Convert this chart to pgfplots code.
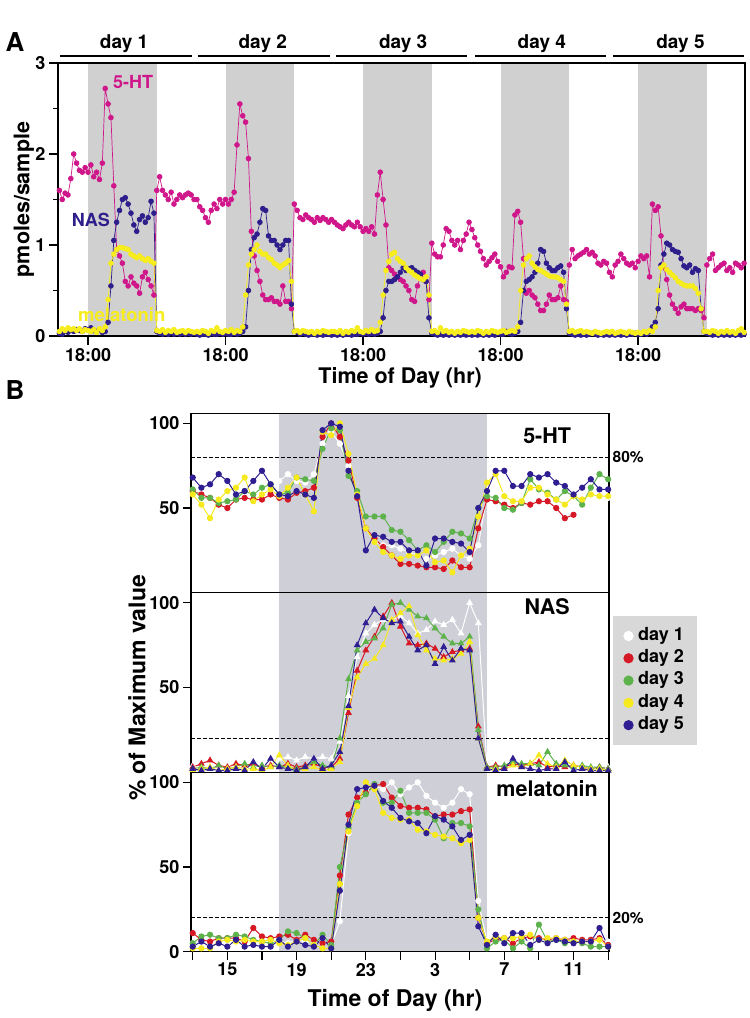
\documentclass[border=0pt]{standalone}
\usepackage{fontspec}
\setmainfont{TeX Gyre Heros}
\usepackage{pgfplots}
\usepackage{pgfplotstable}
\pgfplotsset{compat=1.18}
\definecolor{htcol}{RGB}{207,22,138}
\definecolor{nascol}{RGB}{45,30,140}
\definecolor{melcol}{RGB}{247,236,28}
\definecolor{grayA}{RGB}{208,208,208}
\definecolor{grayB}{RGB}{207,207,216}
\definecolor{cred}{RGB}{213,24,36}
\definecolor{cgreen}{RGB}{94,178,76}
\definecolor{cyel}{RGB}{246,233,30}
\definecolor{cblue}{RGB}{46,30,146}
\definecolor{leggray}{RGB}{216,216,216}
\newcommand{\fs}[1]{\fontsize{#1}{#1}\selectfont\bfseries}

\pgfplotstableread[row sep=\\]{
h ht nas mel\\
-5 1.60 0.03 0.05\\ -4.5 1.50 0.02 0.08\\ -4 1.57 0.05 0.06\\ -3.5 1.55 0.04 0.09\\
-3 1.73 0.06 0.07\\ -2.5 2.00 0.05 0.08\\ -2 1.90 0.07 0.06\\ -1.5 1.82 0.06 0.08\\
-1 1.80 0.05 0.05\\ -0.5 1.85 0.08 0.07\\ 0 1.80 0.07 0.06\\ 0.5 1.88 0.09 0.05\\
1 1.75 0.06 0.07\\ 1.5 1.80 0.05 0.04\\ 2 1.72 0.07 0.08\\ 2.5 1.90 0.04 0.06\\
3 2.72 0.05 0.10\\ 3.5 2.55 0.15 0.40\\ 4 2.40 0.55 0.80\\ 4.5 1.65 1.05 0.90\\
5 0.95 1.25 0.95\\ 5.5 0.88 1.38 0.97\\ 6 0.80 1.50 0.97\\ 6.5 0.60 1.52 0.96\\
7 0.55 1.45 0.95\\ 7.5 0.65 1.35 0.90\\ 8 0.58 1.22 0.88\\ 8.5 0.55 1.15 0.86\\
9 0.47 1.28 0.88\\ 9.5 0.65 1.32 0.85\\ 10 0.70 1.25 0.83\\ 10.5 0.62 1.30 0.85\\
11 0.55 1.48 0.82\\ 11.5 0.45 1.35 0.80\\ 12 1.60 0.05 0.06\\ 12.5 1.75 0.03 0.05\\
13 1.60 0.02 0.07\\ 13.5 1.55 0.03 0.04\\ 14 1.50 0.02 0.06\\ 14.5 1.58 0.04 0.05\\
15 1.45 0.02 0.07\\ 15.5 1.50 0.03 0.04\\ 16 1.55 0.02 0.05\\ 16.5 1.52 0.03 0.06\\
17 1.55 0.02 0.04\\ 17.5 1.57 0.03 0.06\\ 18 1.55 0.02 0.05\\ 18.5 1.50 0.03 0.04\\
19 1.50 0.02 0.05\\ 19.5 1.42 0.01 0.04\\ 20 1.38 0.02 0.06\\ 20.5 1.30 0.02 0.05\\
21 1.25 0.01 0.03\\ 21.5 1.38 0.03 0.06\\ 22 1.45 0.02 0.05\\ 22.5 1.40 0.02 0.09\\
23 1.50 0.03 0.05\\ 23.5 1.45 0.02 0.04\\ 24 1.50 0.03 0.06\\ 24.5 1.45 0.02 0.05\\
25 1.50 0.02 0.07\\ 25.5 1.58 0.03 0.04\\ 26 2.10 0.02 0.06\\ 26.5 2.55 0.03 0.05\\
27 2.42 0.05 0.10\\ 27.5 2.35 0.10 0.45\\ 28 1.95 0.50 0.78\\ 28.5 1.15 0.95 0.90\\
29 0.88 1.08 0.95\\ 29.5 0.72 1.12 1.00\\ 30 0.60 1.25 0.93\\ 30.5 0.45 1.40 0.90\\
31 0.40 1.38 0.90\\ 31.5 0.40 1.10 0.86\\ 32 0.42 1.05 0.84\\ 32.5 0.38 1.05 0.80\\
33 0.38 1.00 0.78\\ 33.5 0.35 0.95 0.75\\ 34 0.55 1.00 0.78\\ 34.5 0.38 1.05 0.80\\
35 0.38 1.05 0.83\\ 35.5 0.30 0.35 0.60\\ 36 1.45 0.05 0.05\\ 36.5 1.38 0.04 0.06\\
37 1.30 0.02 0.04\\ 37.5 1.28 0.03 0.06\\ 38 1.33 0.02 0.05\\ 38.5 1.30 0.01 0.04\\
39 1.28 0.02 0.05\\ 39.5 1.25 0.02 0.03\\ 40 1.30 0.01 0.05\\ 40.5 1.27 0.02 0.04\\
41 1.30 0.01 0.06\\ 41.5 1.28 0.02 0.05\\ 42 1.25 0.02 0.04\\ 42.5 1.28 0.01 0.05\\
43 1.25 0.02 0.05\\ 43.5 1.22 0.01 0.04\\ 44 1.20 0.02 0.06\\ 44.5 1.18 0.01 0.03\\
45 1.22 0.02 0.05\\ 45.5 1.25 0.02 0.04\\ 46 1.22 0.01 0.06\\ 46.5 1.20 0.02 0.05\\
47 1.25 0.02 0.09\\ 47.5 1.20 0.03 0.05\\ 48 1.15 0.02 0.04\\ 48.5 1.18 0.03 0.06\\
49 1.15 0.02 0.05\\ 49.5 1.20 0.03 0.07\\ 50 1.12 0.02 0.05\\ 50.5 1.55 0.03 0.06\\
51 1.80 0.05 0.15\\ 51.5 1.50 0.20 0.45\\ 52 1.22 0.50 0.72\\ 52.5 0.75 0.60 0.82\\
53 0.72 0.60 0.90\\ 53.5 0.68 0.62 0.92\\ 54 0.65 0.65 0.85\\ 54.5 0.62 0.70 0.82\\
55 0.60 0.75 0.80\\ 55.5 0.55 0.72 0.75\\ 56 0.50 0.74 0.72\\ 56.5 0.40 0.75 0.70\\
57 0.38 0.72 0.67\\ 57.5 0.55 0.70 0.65\\ 58 0.65 0.68 0.63\\ 58.5 0.70 0.62 0.62\\
59 0.60 0.60 0.65\\ 59.5 0.40 0.20 0.45\\ 60 1.02 0.03 0.05\\ 60.5 0.90 0.02 0.06\\
61 0.87 0.01 0.04\\ 61.5 0.87 0.02 0.09\\ 62 1.00 0.01 0.05\\ 62.5 1.18 0.02 0.06\\
63 1.15 0.01 0.04\\ 63.5 1.05 0.02 0.05\\ 64 1.00 0.01 0.03\\ 64.5 1.05 0.02 0.05\\
65 0.95 0.01 0.04\\ 65.5 1.05 0.02 0.06\\ 66 1.12 0.01 0.05\\ 66.5 1.25 0.02 0.04\\
67 1.17 0.01 0.05\\ 67.5 1.08 0.02 0.04\\ 68 1.00 0.01 0.06\\ 68.5 0.93 0.02 0.05\\
69 0.85 0.01 0.03\\ 69.5 0.78 0.02 0.05\\ 70 0.82 0.01 0.04\\ 70.5 0.86 0.02 0.06\\
71 0.90 0.01 0.05\\ 71.5 0.82 0.03 0.04\\ 72 0.76 0.02 0.05\\ 72.5 0.65 0.02 0.06\\
73 0.70 0.05 0.04\\ 73.5 0.76 0.03 0.05\\ 74 0.75 0.02 0.06\\ 74.5 1.33 0.03 0.05\\
75 1.37 0.05 0.10\\ 75.5 1.25 0.15 0.50\\ 76 0.85 0.50 0.78\\ 76.5 0.47 0.60 0.85\\
77 0.50 0.62 0.88\\ 77.5 0.45 0.65 0.80\\ 78 0.42 0.70 0.76\\ 78.5 0.35 0.80 0.73\\
79 0.28 0.95 0.72\\ 79.5 0.28 0.93 0.70\\ 80 0.35 0.80 0.68\\ 80.5 0.45 0.75 0.66\\
81 0.40 0.72 0.65\\ 81.5 0.40 0.72 0.65\\ 82 0.42 0.75 0.64\\ 82.5 0.55 0.77 0.62\\
83 0.40 0.70 0.60\\ 83.5 0.38 0.30 0.35\\ 84 0.78 0.03 0.05\\ 84.5 0.95 0.02 0.06\\
85 0.85 0.01 0.04\\ 85.5 0.88 0.02 0.05\\ 86 0.90 0.01 0.06\\ 86.5 0.92 0.02 0.04\\
87 0.95 0.01 0.05\\ 87.5 0.90 0.02 0.04\\ 88 0.92 0.03 0.03\\ 88.5 0.88 0.02 0.05\\
89 0.80 0.01 0.04\\ 89.5 0.78 0.02 0.03\\ 90 0.82 0.01 0.04\\ 90.5 0.80 0.02 0.05\\
91 0.70 0.01 0.04\\ 91.5 0.65 0.02 0.05\\ 92 0.78 0.01 0.03\\ 92.5 0.82 0.02 0.04\\
93 0.90 0.01 0.05\\ 93.5 0.85 0.02 0.04\\ 94 0.80 0.01 0.03\\ 94.5 0.78 0.02 0.05\\
95 0.80 0.02 0.04\\ 95.5 0.75 0.03 0.03\\ 96 0.82 0.02 0.04\\ 96.5 0.88 0.02 0.03\\
97 0.85 0.03 0.05\\ 97.5 0.88 0.02 0.04\\ 98 0.65 0.05 0.06\\ 98.5 1.45 0.10 0.05\\
99 1.38 0.15 0.10\\ 99.5 1.42 0.30 0.50\\ 100 1.10 0.78 0.75\\ 100.5 0.75 0.90 0.78\\
101 0.62 1.02 0.73\\ 101.5 0.45 1.00 0.70\\ 102 0.35 0.95 0.67\\ 102.5 0.30 0.93 0.64\\
103 0.25 0.92 0.60\\ 103.5 0.32 0.85 0.58\\ 104 0.35 0.77 0.56\\ 104.5 0.30 0.75 0.55\\
105 0.30 0.78 0.55\\ 105.5 0.30 0.70 0.55\\ 106 0.28 0.74 0.52\\ 106.5 0.30 0.72 0.47\\
107 0.28 0.30 0.30\\ 107.5 0.20 0.05 0.05\\ 108 0.78 0.03 0.05\\ 108.5 0.85 0.02 0.04\\
109 0.90 0.01 0.06\\ 109.5 0.72 0.02 0.05\\ 110 0.75 0.01 0.03\\ 110.5 0.78 0.02 0.05\\
111 0.80 0.01 0.04\\ 111.5 0.72 0.02 0.06\\ 112 0.75 0.01 0.04\\ 112.5 0.70 0.02 0.05\\
113 0.80 0.01 0.03\\ 113.5 0.78 0.02 0.06\\ 114 0.75 0.01 0.08\\ 114.5 0.80 0.02 0.04\\
}\tabA

\pgfplotstableread[row sep=\\]{
h d1 d2 d3 d4 d5\\
13 60 60 61 58 68\\ 13.5 58 58 56 52 62\\ 14 60 56 56 44 64\\ 14.5 58 52 53 55 70\\
15 60 50 54 60 66\\ 15.5 58 55 55 62 58\\ 16 62 56 60 68 60\\ 16.5 60 55 58 54 66\\
17 62 55 62 58 72\\ 17.5 60 58 64 61 64\\ 18 66 56 58 57 58\\ 18.5 70 55 59 62 57\\
19 66 59 68 68 60\\ 19.5 65 60 67 58 58\\ 20 70 62 66 48 56\\ 20.5 88 92 85 95 96\\
21 95 100 97 93 100\\ 21.5 88 92 96 100 98\\ 22 75 78 69 82 72\\ 22.5 58 56 60 58 57\\
23 38 38 45 38 25\\ 23.5 30 32 45 30 34\\ 24 28 27 45 24 33\\ 24.5 28 22 37 22 30\\
25 26 17 36 20 30\\ 25.5 24 17 31 22 25\\ 26 22 16 25 22 25\\ 26.5 20 15 28 25 16\\
27 22 15 24 18 32\\ 27.5 24 14 30 19 32\\ 28 26 19 36 12 30\\ 28.5 22 15 35 22 29\\
29 20 15 32 26 24\\ 29.5 28 38 50 45 50\\ 30 58 55 57 65 60\\ 30.5 60 54 56 70 72\\
31 58 52 50 57 72\\ 31.5 56 50 49 54 63\\ 32 60 53 53 54 63\\ 32.5 58 52 67 62 70\\
33 60 54 61 62 68\\ 33.5 57 54 59 58 70\\ 34 58 50 55 55 65\\ 34.5 56 44 60 52 63\\
35 58 46 57 57 58\\ 35.5 60 nan 52 55 62\\ 36 58 nan 62 58 67\\ 36.5 56 nan 70 57 61\\
37 56 nan 67 57 61\\
}\tabHT

\pgfplotstableread[row sep=\\]{
h d1 d2 d3 d4 d5\\
13 4 3 2 1 2\\ 13.5 3 5 3 2 1\\ 14 4 7 2 3 2\\ 14.5 3 4 4 1 1\\
15 5 3 2 2 1\\ 15.5 4 5 3 3 2\\ 16 3 4 5 2 1\\ 16.5 4 5 3 2 6\\
17 5 3 4 1 2\\ 17.5 4 4 3 3 8\\ 18 8 3 4 10 3\\ 18.5 9 5 3 4 2\\
19 7 3 2 1 1\\ 19.5 9 4 3 2 3\\ 20 8 5 6 3 8\\ 20.5 9 3 4 1 2\\
21 8 3 3 2 4\\ 21.5 18 8 20 6 12\\ 22 45 35 55 38 39\\ 22.5 68 60 72 56 75\\
23 82 72 77 64 88\\ 23.5 87 80 79 67 96\\ 24 90 92 85 75 91\\ 24.5 90 100 99 90 88\\
25 92 86 100 94 89\\ 25.5 88 76 96 98 80\\ 26 82 75 92 81 72\\ 26.5 84 76 91 72 75\\
27 89 73 85 67 64\\ 27.5 87 68 80 66 74\\ 28 90 71 76 67 66\\ 28.5 82 72 76 70 73\\
29 100 73 80 77 72\\ 29.5 88 27 25 20 20\\ 30 3 3 3 2 2\\ 30.5 2 4 3 2 1\\
31 3 3 4 2 2\\ 31.5 2 5 6 4 8\\ 32 3 4 5 3 3\\ 32.5 2 5 5 5 2\\
33 3 6 4 10 1\\ 33.5 2 3 12 5 2\\ 34 3 4 5 3 2\\ 34.5 2 3 4 7 6\\
35 3 4 3 4 1\\ 35.5 2 3 4 3 2\\ 36 3 2 3 2 1\\ 36.5 2 3 3 2 1\\
37 3 2 2 1 1\\
}\tabNAS

\pgfplotstableread[row sep=\\]{
h d1 d2 d3 d4 d5\\
13 5 11 5 2 3\\ 13.5 6 7 9 2 6\\ 14 5 6 10 2 3\\ 14.5 6 8 8 6 5\\
15 5 8 8 7 3\\ 15.5 6 8 10 6 7\\ 16 5 6 9 7 3\\ 16.5 6 14 7 6 4\\
17 5 9 6 6 3\\ 17.5 6 8 5 7 3\\ 18 6 9 7 5 7\\ 18.5 5 10 12 4 3\\
19 7 7 11 6 6\\ 19.5 6 10 8 8 4\\ 20 5 7 4 4 3\\ 20.5 6 5 10 2 8\\
21 4 6 4 2 2\\ 21.5 18 45 50 40 36\\ 22 70 81 73 71 75\\ 22.5 90 91 88 86 96\\
23 95 94 93 100 97\\ 23.5 98 98 99 96 98\\ 24 96 99 88 82 89\\ 24.5 100 91 88 79 85\\
25 93 86 95 78 79\\ 25.5 97 85 82 78 77\\ 26 100 85 82 72 76\\ 26.5 92 84 82 71 70\\
27 88 80 78 69 80\\ 27.5 85 81 67 68 78\\ 28 88 81 76 67 74\\ 28.5 96 83 76 64 66\\
29 93 84 74 66 69\\ 29.5 30 20 25 20 15\\ 30 6 5 2 6 4\\ 30.5 6 7 6 9 10\\
31 7 8 7 8 5\\ 31.5 6 5 2 8 11\\ 32 7 8 6 9 11\\ 32.5 6 9 2 10 4\\
33 7 8 16 7 7\\ 33.5 6 7 6 8 5\\ 34 7 8 7 8 7\\ 34.5 6 7 5 7 6\\
35 7 8 6 6 5\\ 35.5 6 7 5 6 6\\ 36 7 7 3 6 6\\ 36.5 6 8 3 7 14\\
37 6 4 3 3 3\\
}\tabMEL

\pgfplotsset{
  dayplot/.style={line width=1pt, mark=*, mark size=2.6pt, draw=#1, mark options={draw=#1, fill=#1}},
  nasplot/.style={line width=1pt, mark=triangle*, mark size=3pt, draw=#1, mark options={draw=#1, fill=#1}},
  Bax/.style={scale only axis, width=418pt, height=179.5pt, anchor=south west,
    xmin=12.9, xmax=37.05, ymin=0, ymax=106,
    axis line style={line width=1.1pt}, tick style={line width=1.1pt, black},
    tick align=outside, xtick pos=left, ytick pos=left, major tick length=8pt,
    tick label style={font=\fs{18}}, /pgf/number format/assume math mode=true,
    clip=false, axis on top},
}

\begin{document}
\begin{tikzpicture}[x=1pt,y=1pt]
\useasboundingbox (0,0) rectangle (750,1018);

% ---------------- Panel A ----------------
\begin{axis}[
  at={(58pt,682pt)}, anchor=south west, scale only axis, width=687pt, height=273pt,
  xmin=-5.24, xmax=114.66, ymin=0, ymax=3,
  axis line style={line width=1.3pt}, tick style={line width=1.2pt, black},
  tick align=outside, xtick pos=left, ytick pos=left,
  major tick length=9pt, minor tick length=5pt,
  xtick={0,24,48,72,96}, xticklabels={18:00,18:00,18:00,18:00,18:00},
  ytick={0,1,2,3}, minor ytick={0.5,1.5,2.5},
  tick label style={font=\fs{18}}, /pgf/number format/assume math mode=true,
  xlabel={Time of Day (hr)}, ylabel={pmoles/sample},
  xlabel style={at={(rel axis cs:0.498,-0.154)}, anchor=center, font=\fs{21.5}},
  ylabel style={at={(rel axis cs:-0.0495,0.5)}, anchor=center, font=\fs{21.5}},
  clip=false, axis on top,
]
\fill[grayA] (axis cs:0,0) rectangle (axis cs:12,3);
\fill[grayA] (axis cs:24,0) rectangle (axis cs:36,3);
\fill[grayA] (axis cs:48,0) rectangle (axis cs:60,3);
\fill[grayA] (axis cs:72,0) rectangle (axis cs:84,3);
\fill[grayA] (axis cs:96,0) rectangle (axis cs:108,3);
\addplot[line width=0.7pt, color=htcol, mark=*, mark size=2.4pt] table[x=h,y=ht]{\tabA};
\addplot[line width=0.7pt, color=nascol, mark=*, mark size=2.4pt] table[x=h,y=nas]{\tabA};
\addplot[line width=0.7pt, color=melcol, mark=*, mark size=2.4pt] table[x=h,y=mel]{\tabA};
\node[text=htcol, font=\fs{18}] at (axis cs:7.85,2.79) {5-HT};
\node[text=nascol, font=\fs{18}] at (axis cs:0.5,1.27) {NAS};
\node[text=melcol, font=\fs{18.5}] at (axis cs:5.9,0.23) {melatonin};
\draw[line width=1.5pt] (axis cs:-4.9,3.077) -- (axis cs:18.1,3.077);
\draw[line width=1.5pt] (axis cs:19.25,3.077) -- (axis cs:42.2,3.077);
\draw[line width=1.5pt] (axis cs:43.3,3.077) -- (axis cs:66.2,3.077);
\draw[line width=1.5pt] (axis cs:67.5,3.077) -- (axis cs:90.4,3.077);
\draw[line width=1.5pt] (axis cs:91.6,3.077) -- (axis cs:114.5,3.077);
\node[font=\fs{19}] at (axis cs:6.3,3.215) {day 1};
\node[font=\fs{19}] at (axis cs:30.5,3.215) {day 2};
\node[font=\fs{19}] at (axis cs:55,3.215) {day 3};
\node[font=\fs{19}] at (axis cs:79.2,3.215) {day 4};
\node[font=\fs{19}] at (axis cs:103.4,3.215) {day 5};
\end{axis}
\node[font=\fs{26}] at (15,976) {A};
\node[font=\fs{26}] at (15,628) {B};

% ---------------- Panel B1: 5-HT ----------------
\begin{axis}[Bax, at={(191pt,425.3pt)}, xtick=\empty, ytick={50,100}]
\fill[grayB] (axis cs:18,0) rectangle (axis cs:30,106);
\draw[dash pattern=on 3.5pt off 2.5pt, line width=1pt] (axis cs:12.9,80) -- (axis cs:37.05,80);
\node[anchor=west, inner sep=0pt, font=\fs{15.5}] at (axis cs:37.25,80) {80\%};
\addplot[dayplot=white] table[x=h,y=d1]{\tabHT};
\addplot[dayplot=cred] table[x=h,y=d2]{\tabHT};
\addplot[dayplot=cgreen] table[x=h,y=d3]{\tabHT};
\addplot[dayplot=cyel] table[x=h,y=d4]{\tabHT};
\addplot[dayplot=cblue] table[x=h,y=d5]{\tabHT};
\node[font=\fs{21.5}] at (rel axis cs:0.852,0.877) {5-HT};
\end{axis}

% ---------------- Panel B2: NAS ----------------
\begin{axis}[Bax, at={(191pt,245.8pt)}, xtick=\empty, ytick={50,100},
  ylabel={\% of Maximum value},
  ylabel style={at={(rel axis cs:-0.129,0.469)}, anchor=center, font=\fs{23}}]
\fill[grayB] (axis cs:18,0) rectangle (axis cs:30,106);
\draw[dash pattern=on 3.5pt off 2.5pt, line width=1pt] (axis cs:12.9,20) -- (axis cs:37.05,20);
\addplot[nasplot=white] table[x=h,y=d1]{\tabNAS};
\addplot[nasplot=cred] table[x=h,y=d2]{\tabNAS};
\addplot[nasplot=cgreen] table[x=h,y=d3]{\tabNAS};
\addplot[nasplot=cyel] table[x=h,y=d4]{\tabNAS};
\addplot[nasplot=cblue] table[x=h,y=d5]{\tabNAS};
\node[font=\fs{21.5}] at (rel axis cs:0.852,0.923) {NAS};
\end{axis}

% ---------------- Panel B3: melatonin ----------------
\begin{axis}[Bax, at={(191pt,66.3pt)}, ytick={0,50,100},
  xtick={13,15,...,37}, xticklabels={,15,,19,,23,,3,,7,,11,},
  xlabel={Time of Day (hr)},
  xlabel style={at={(rel axis cs:0.488,-0.269)}, anchor=center, font=\fs{23}},
  legend style={at={(1.0089,1.870)}, anchor=north west, fill=leggray, draw=none,
    font=\fs{18}, inner xsep=11pt, inner ysep=10pt, row sep=2.8pt, column sep=3pt,
    nodes={inner sep=2pt, text height=12pt, text depth=3.5pt}},
  legend cell align=left,
  legend image code/.code={\draw[#1, mark size=4.6pt] plot coordinates {(0.25cm,0cm)};}]
\fill[grayB] (axis cs:18,0) rectangle (axis cs:30,106);
\draw[dash pattern=on 3.5pt off 2.5pt, line width=1pt] (axis cs:12.9,20) -- (axis cs:37.05,20);
\node[anchor=west, inner sep=0pt, font=\fs{15.5}] at (axis cs:37.25,20) {20\%};
\addplot[dayplot=white] table[x=h,y=d1]{\tabMEL};
\addlegendentry{day 1}
\addplot[dayplot=cred] table[x=h,y=d2]{\tabMEL};
\addlegendentry{day 2}
\addplot[dayplot=cgreen] table[x=h,y=d3]{\tabMEL};
\addlegendentry{day 3}
\addplot[dayplot=cyel] table[x=h,y=d4]{\tabMEL};
\addlegendentry{day 4}
\addplot[dayplot=cblue] table[x=h,y=d5]{\tabMEL};
\addlegendentry{day 5}
\node[font=\fs{21.5}] at (rel axis cs:0.852,0.909) {melatonin};
\end{axis}
\end{tikzpicture}
\end{document}
